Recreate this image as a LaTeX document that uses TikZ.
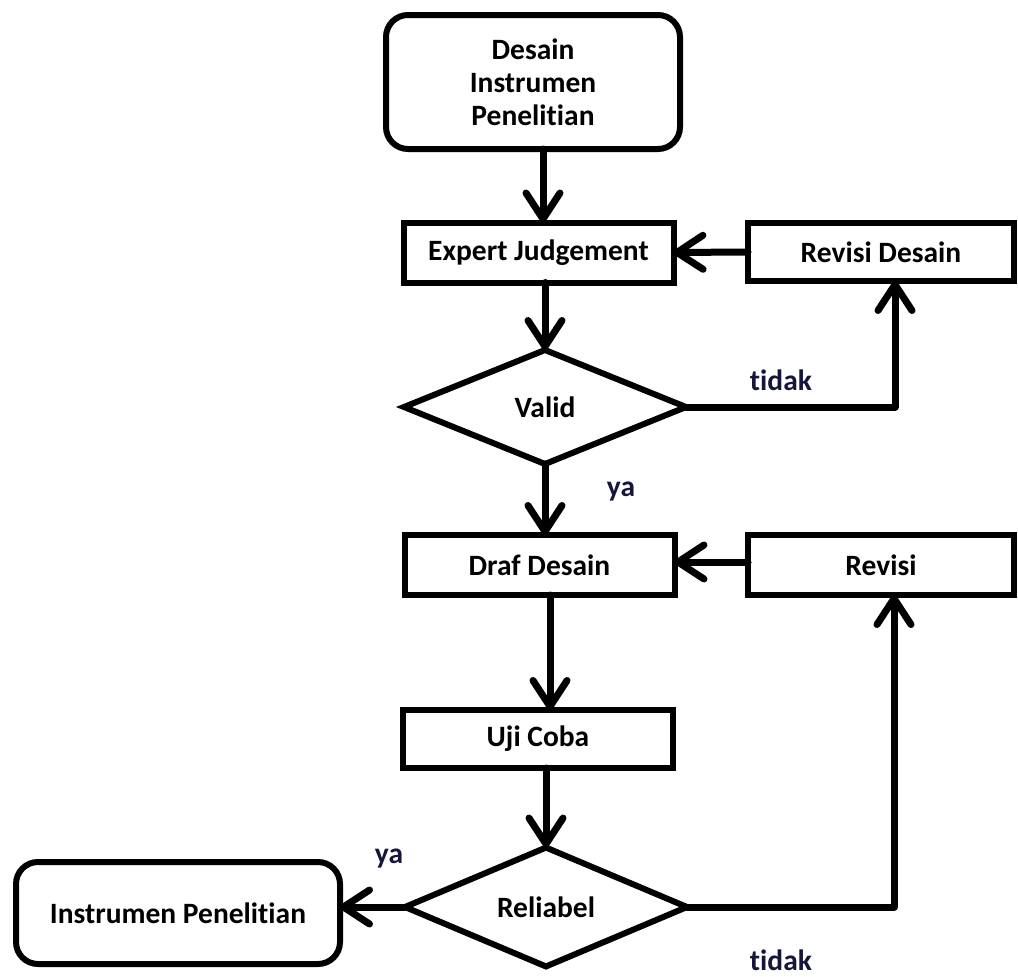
\documentclass[tikz,border=0pt]{standalone}
\usepackage{fontspec}
\setmainfont{Carlito}[Ligatures=NoCommon]
\usetikzlibrary{arrows.meta,shapes.geometric,calc}
\definecolor{lbl}{RGB}{22,22,58}
\begin{document}
\begin{tikzpicture}[x=1pt,y=-1pt,
  every node/.style={font=\fontsize{29.5}{33}\selectfont\bfseries, inner sep=0pt, outer sep=0pt},
  boxn/.style={draw, line width=6pt, minimum width=270pt, minimum height=60pt},
  rbox/.style={draw, line width=6pt, rounded corners=22pt},
  dia/.style={draw, diamond, line width=6pt, minimum width=282pt, minimum height=114pt},
  arr/.style={line width=7pt, line cap=round, line join=round, -{Straight Barb[length=26pt,width=34pt,round]}},
  lab/.style={text=lbl}]
\useasboundingbox (0,0) rectangle (1018,977);
\node[rbox, minimum width=294pt, minimum height=134pt, align=center] (start) at (533,82) {Desain\\Instrumen\\Penelitian};
\node[boxn] (ej) at (538.5,252.5) {Expert Judgement};
\node[boxn, minimum width=266pt, minimum height=58pt] (rd) at (881,252) {Revisi Desain};
\node[dia] (valid) at (545,407) {Valid};
\node[boxn] (draf) at (539.5,565) {Draf Desain};
\node[boxn, minimum width=266pt, minimum height=60pt] (rev) at (881,565) {Revisi};
\node[boxn, minimum height=58pt] (uji) at (538,739) {Uji Coba};
\node[dia] (rel) at (546,907) {Reliabel};
\node[rbox, minimum width=324pt, minimum height=102pt] (ip) at (178,913) {Instrumen Penelitian};
\coordinate (du) at (550,0);
\coordinate (sx) at (543,0);
\coordinate (rdx) at (895,0);
\coordinate (revx) at (894,0);
% connectors
\draw[arr] (start.south -| sx) -- (ej.north -| sx);
\draw[arr] (ej.south -| valid) -- (valid.north);
\draw[arr] (valid.south) -- (draf.north -| valid);
\draw[arr] (draf.south -| du) -- (uji.north -| du);
\draw[arr] (uji.south -| rel) -- (rel.north);
\draw[arr] (rd.west) -- (ej.east);
\draw[arr] ([yshift=3pt]rev.west) -- ([yshift=3pt]draf.east);
\draw[arr] (valid.east) -| (rd.south -| rdx);
\draw[arr] (rel.east) -| (rev.south -| revx);
\draw[arr] (rel.west) -- (rel.west -| ip.east);
% labels
\node[lab] (t1) at (781,380) {tidak};
\node[lab] (y1) at (621,492) {ya};
\node[lab] (y2) at (389,859) {ya};
\node[lab] (t2) at (781,960) {tidak};
\end{tikzpicture}
\end{document}
